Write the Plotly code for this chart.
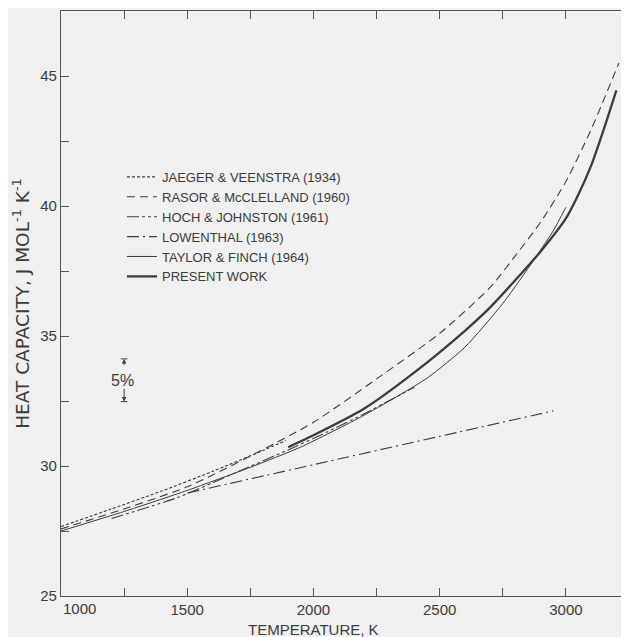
import plotly.graph_objects as go

# ---------------- data ----------------
jaeger_T = [1000, 1200, 1400, 1600, 1800, 1890]
jaeger_cp = [27.67, 28.35, 29.04, 29.79, 30.60, 30.98]

rasor_T = [1000, 1250, 1500, 1750, 2000, 2250, 2500, 2700, 2800, 2900, 3000, 3100, 3210]
rasor_cp = [27.58, 28.35, 29.20, 30.38, 31.68, 33.35, 35.10, 36.87, 38.09, 39.38, 40.94, 42.94, 45.50]

hoch_T = [1200, 1465, 1700, 1900, 2052, 2200, 2400]
hoch_cp = [27.98, 28.80, 29.78, 30.62, 31.30, 32.00, 33.03]

lowenthal_T = [1500, 2000, 2500, 2950]
lowenthal_cp = [28.96, 30.05, 31.14, 32.12]

taylor_T = [1000, 1250, 1500, 1750, 1950, 2200, 2450, 2600, 2750, 2850, 2950, 3000]
taylor_cp = [27.50, 28.25, 29.06, 29.95, 30.73, 31.95, 33.38, 34.57, 36.25, 37.60, 39.05, 39.95]

present_T = [1900, 2000, 2200, 2400, 2600, 2700, 2800, 2900, 3000, 3050, 3100, 3150, 3200]
present_cp = [30.72, 31.18, 32.20, 33.60, 35.20, 36.10, 37.15, 38.25, 39.52, 40.45, 41.55, 42.95, 44.45]

series_names = ["JAEGER & VEENSTRA (1934)", "RASOR & McCLELLAND (1960)",
                "HOCH & JOHNSTON (1961)", "LOWENTHAL (1963)",
                "TAYLOR & FINCH (1964)", "PRESENT WORK"]

x_tick_vals = [1000, 1250, 1500, 1750, 2000, 2250, 2500, 2750, 3000]
x_tick_text = ["", "", "1500", "", "2000", "", "2500", "", "3000"]
y_tick_vals = [25, 27.5, 30, 32.5, 35, 37.5, 40, 42.5, 45]
y_tick_text = ["25", "", "30", "", "35", "", "40", "", "45"]

# 5 % bracket (values in Cp units)
pct_T = 1250
pct_top = 34.12
pct_bot = 32.48
pct_label = "5%"

# ---------------- figure ----------------
INK = "#3c3c3c"
BG = "#f0f0f0"
FONT = "Liberation Sans, Arial, sans-serif"
WIDE = "DejaVu Sans, Liberation Sans, sans-serif"

styles = [
    dict(width=1.1, dash="3px,2px"),
    dict(width=1.1, dash="8px,5px"),
    dict(width=1.1, dash="12px,3px,3px,3px,3px,3px"),
    dict(width=1.1, dash="12px,4px,2px,4px"),
    dict(width=1.0),
    dict(width=2.3),
]
data = [(jaeger_T, jaeger_cp), (rasor_T, rasor_cp), (hoch_T, hoch_cp),
        (lowenthal_T, lowenthal_cp), (taylor_T, taylor_cp), (present_T, present_cp)]

fig = go.Figure()
for name, (T, cp), st in zip(series_names, data, styles):
    fig.add_trace(go.Scatter(x=T, y=cp, mode="lines", name=name,
                             line=dict(color=INK, shape="spline", smoothing=0.6, **st)))

# the page adds an 8 px body margin, so the figure is sized/margined to compensate
fig.update_layout(
    width=621, height=629,
    margin=dict(l=53, r=0, t=3, b=41),
    paper_bgcolor=BG, plot_bgcolor=BG,
    font=dict(family=FONT, color=INK, size=14),
    showlegend=True,
    legend=dict(x=0.1074, y=0.742, xanchor="left", yanchor="top",
                bgcolor="rgba(0,0,0,0)", font=dict(family=FONT, size=13, color=INK),
                tracegroupgap=0),
)

axis_common = dict(showgrid=False, zeroline=False, showline=True, linecolor="#555",
                   linewidth=1.2, mirror="ticks", ticks="inside", ticklen=8,
                   tickwidth=1, tickcolor="#555",
                   tickfont=dict(family=FONT, size=15, color=INK))
fig.update_xaxes(range=[1000, 3250], tickmode="array", tickvals=x_tick_vals,
                 ticktext=x_tick_text, **axis_common)
fig.update_yaxes(range=[25, 47.5], tickmode="array", tickvals=y_tick_vals,
                 ticktext=y_tick_text,
                 title=dict(text="HEAT CAPACITY, J MOL<sup>-1</sup> K<sup>-1</sup>",
                            font=dict(family=WIDE, size=18.5, color=INK), standoff=5),
                 **axis_common)

# "1000" tick label, left-aligned at the axis as in the original
fig.add_annotation(x=x_tick_vals[0], y=0, xref="x", yref="paper", text="1000",
                   showarrow=False, xanchor="left", yanchor="top", yshift=-2,
                   font=dict(family=FONT, size=15, color=INK))
# x axis title
fig.add_annotation(x=2000, y=0, xref="x", yref="paper", text="TEMPERATURE, K",
                   showarrow=False, xanchor="center", yanchor="middle", yshift=-33,
                   font=dict(family=FONT, size=15, color=INK))

# 5 % bracket
fig.add_annotation(x=pct_T, y=pct_top, ax=pct_T, ay=33.83, xref="x", yref="y",
                   axref="x", ayref="y", showarrow=True, arrowhead=2, arrowsize=0.9,
                   arrowwidth=1, arrowcolor=INK, text="")
fig.add_annotation(x=pct_T, y=pct_bot, ax=pct_T, ay=33.03, xref="x", yref="y",
                   axref="x", ayref="y", showarrow=True, arrowhead=2, arrowsize=0.9,
                   arrowwidth=1, arrowcolor=INK, text="")
for yv in (pct_top, pct_bot):
    fig.add_shape(type="line", x0=pct_T - 13, x1=pct_T + 13, y0=yv, y1=yv,
                  xref="x", yref="y", line=dict(color=INK, width=1))
fig.add_annotation(x=pct_T - 8, y=(pct_top + pct_bot) / 2, xref="x", yref="y",
                   text=pct_label, showarrow=False,
                   font=dict(family=FONT, size=16, color=INK))

fig.write_html("out.html")
